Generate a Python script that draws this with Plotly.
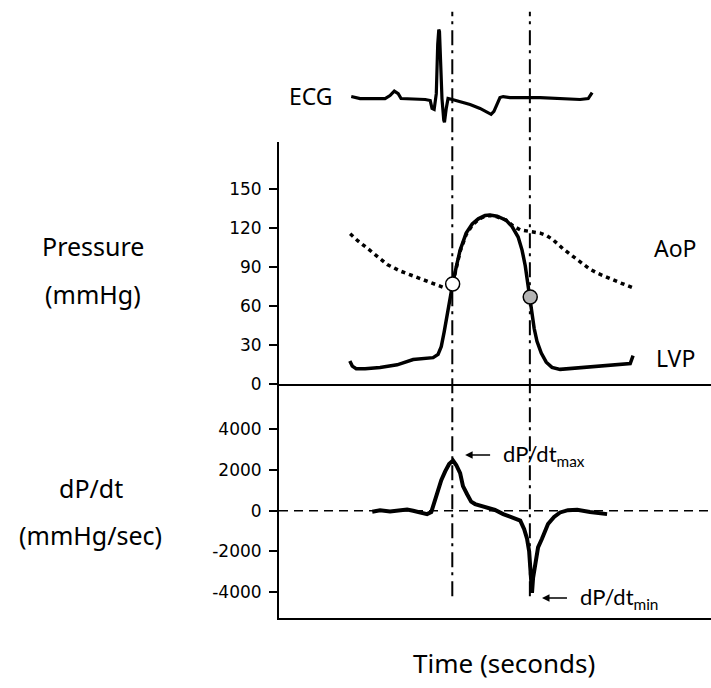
import plotly.graph_objects as go

# ---------------- data (time in seconds) ----------------
ecg_t = [0.003, 0.028, 0.098, 0.112, 0.124, 0.135, 0.143, 0.211, 0.225, 0.230, 0.236, 0.242,
         0.246, 0.249, 0.251, 0.254, 0.258, 0.263, 0.265, 0.270, 0.275, 0.287, 0.309, 0.337,
         0.365, 0.385, 0.396, 0.404, 0.413, 0.421, 0.430, 0.449, 0.534, 0.590, 0.610, 0.624,
         0.646, 0.669, 0.677, 0.680]
ecg_mv = [0.029, 0.0, 0.0, 0.043, 0.107, 0.071, 0.0, -0.014, -0.029, -0.143, -0.157, 0.071,
          0.786, 1.0, 0.971, 0.571, 0.0, -0.314, -0.343, -0.143, 0.0, -0.014, -0.043, -0.086,
          -0.143, -0.2, -0.229, -0.186, -0.086, 0.014, 0.029, 0.014, 0.014, 0.0, -0.014, -0.014,
          -0.014, 0.0, 0.057, 0.086]

lvp_t = [-0.001, 0.006, 0.017, 0.042, 0.084, 0.132, 0.177, 0.211, 0.233, 0.247, 0.256, 0.264,
         0.272, 0.281, 0.288, 0.298, 0.309, 0.326, 0.343, 0.360, 0.379, 0.393, 0.413, 0.438,
         0.455, 0.472, 0.483, 0.492, 0.500, 0.506, 0.511, 0.517, 0.525, 0.537, 0.551, 0.567,
         0.590, 0.632, 0.674, 0.716, 0.758, 0.787, 0.795]
lvp_mmhg = [18, 14, 12, 12, 13, 15, 19, 20, 20.5, 23, 29, 40,
            53, 66, 77, 90, 103, 116, 123, 127, 129.5, 130, 129, 126,
            121, 113, 103, 91, 76, 67, 55, 43, 33, 24, 17, 13,
            11.5, 12.5, 13.5, 14.5, 15, 16, 22]

aop_t = [0.000, 0.022, 0.048, 0.076, 0.104, 0.140, 0.177, 0.219, 0.261, 0.281, 0.288, 0.298,
         0.309, 0.326, 0.343, 0.360, 0.379, 0.393, 0.413, 0.438, 0.458, 0.478, 0.506, 0.534,
         0.553, 0.570, 0.598, 0.626, 0.652, 0.674, 0.697, 0.722, 0.758, 0.795]
aop_mmhg = [115.5, 110, 104.5, 98, 92, 87, 83, 79, 74.5, 75.5, 77, 89,
            102, 115, 122, 126.5, 129, 129.5, 128.5, 126, 121.5, 118.5, 117, 116,
            114, 111, 104, 98, 93, 88.3, 85, 82, 78, 74]

dpdt_t = [0.062, 0.084, 0.112, 0.140, 0.160, 0.177, 0.197, 0.216, 0.228, 0.233, 0.242, 0.247,
          0.256, 0.267, 0.278, 0.289, 0.298, 0.309, 0.317, 0.329, 0.340, 0.351, 0.368, 0.385,
          0.407, 0.430, 0.455, 0.478, 0.489, 0.497, 0.503, 0.506, 0.508, 0.511, 0.514, 0.520,
          0.528, 0.539, 0.556, 0.573, 0.590, 0.612, 0.638, 0.674, 0.702, 0.722]
dpdt_val = [-50, 20, -30, 30, 60, 0, -80, -165, -60, 240, 700, 1045,
            1500, 1936, 2300, 2470, 2250, 1854, 1210, 800, 450, 330, 230, 160,
            40, -165, -320, -484, -900, -1375, -2000, -2662, -3500, -4037, -3300, -2502,
            -1800, -1375, -648, -300, -82, 30, 48, -60, -100, -165]

# aortic valve opening / closing points
valve_t = [0.288, 0.506]
valve_p = [77, 67]
valve_fill = ["white", "#b4b4b4"]

# times of dP/dt max and min (vertical markers)
event_t = [0.287, 0.505]

pressure_ticks = [0, 30, 60, 90, 120, 150]
pressure_ticktext = ["0", "30", "60", "90", "120", "150"]
dpdt_ticks = [-4000, -2000, 0, 2000, 4000]
dpdt_ticktext = ["-4000", "-2000", "0", "2000", "4000"]

# ---------------- figure ----------------
fig = go.Figure()

fig.add_trace(go.Scatter(x=ecg_t, y=ecg_mv, xaxis="x3", yaxis="y3", mode="lines",
                         line=dict(color="black", width=3.2), hoverinfo="skip"))
fig.add_trace(go.Scatter(x=aop_t, y=aop_mmhg, xaxis="x2", yaxis="y2", mode="lines",
                         line=dict(color="black", width=3.5, dash="4px,4px"), hoverinfo="skip"))
fig.add_trace(go.Scatter(x=lvp_t, y=lvp_mmhg, xaxis="x2", yaxis="y2", mode="lines",
                         line=dict(color="black", width=3.5), hoverinfo="skip"))
fig.add_trace(go.Scatter(x=valve_t, y=valve_p, xaxis="x2", yaxis="y2", mode="markers",
                         marker=dict(size=14, color=valve_fill, line=dict(color="black", width=1.5)),
                         hoverinfo="skip"))
fig.add_trace(go.Scatter(x=dpdt_t, y=dpdt_val, xaxis="x", yaxis="y", mode="lines",
                         line=dict(color="black", width=4), hoverinfo="skip"))

xr = [-0.2, 1.014]
ax_line = dict(showline=True, linecolor="black", linewidth=2, showgrid=False, zeroline=False)
tickfont = dict(family="DejaVu Sans", size=17, color="black")

fig.update_layout(
    width=711, height=688,
    margin=dict(l=279, r=0, t=0, b=0),
    paper_bgcolor="white", plot_bgcolor="white",
    showlegend=False,
    xaxis=dict(domain=[0, 1], range=xr, anchor="y", ticks="", showticklabels=False, **ax_line),
    yaxis=dict(domain=[0.0891, 0.4331], range=[-5247, 6210], tickvals=dpdt_ticks,
               ticktext=dpdt_ticktext,
               ticks="outside", ticklen=8, tickwidth=2, tickcolor="black",
               tickfont=tickfont, ticklabelstandoff=4, anchor="x", **ax_line),
    xaxis2=dict(domain=[0, 1], range=xr, matches="x", anchor="y2", ticks="",
                showticklabels=False, **ax_line),
    yaxis2=dict(domain=[0.4331, 0.7907], range=[0, 186], tickvals=pressure_ticks,
                ticktext=pressure_ticktext,
                ticks="outside", ticklen=8, tickwidth=2, tickcolor="black",
                tickfont=tickfont, ticklabelstandoff=4, anchor="x2", **ax_line),
    xaxis3=dict(domain=[0, 1], range=xr, matches="x", anchor="y3", visible=False),
    yaxis3=dict(domain=[0.7965, 1.0], range=[-0.5714, 1.4286], anchor="x3", visible=False),
)

# vertical dash-dot event lines
for t in event_t:
    fig.add_shape(type="line", xref="x", yref="paper", x0=t, x1=t, y0=0.1206, y1=0.9826,
                  line=dict(color="black", width=2, dash="15px,6px,3px,5px"), layer="below")

# dashed zero line of dP/dt
fig.add_shape(type="line", xref="paper", yref="y", x0=0, x1=1, y0=0, y1=0,
              line=dict(color="black", width=1.5, dash="9px,6px"), layer="below")

labels = [
    ("ECG", 0.074, 0.859, 23),
    ("Pressure", -0.4306, 0.6366, 25),
    ("(mmHg)", -0.4306, 0.5669, 25),
    ("dP/dt", -0.435, 0.2805, 25),
    ("(mmHg/sec)", -0.437, 0.2108, 25),
    ("AoP", 0.9167, 0.634, 23),
    ("LVP", 0.9167, 0.4724, 23),
    ("Time (seconds)", 0.5208, 0.0218, 26),
]
for txt, x, y, s in labels:
    fig.add_annotation(text=txt, x=x, y=y, xref="paper", yref="paper", showarrow=False,
                       xanchor="center", yanchor="middle",
                       font=dict(family="Noto Sans", size=s, color="black"))

# dP/dt max / min arrows with labels
arrows = [(0.323, 2740, "dP/dt<sub>max</sub>"),
          (0.539, -4279, "dP/dt<sub>min</sub>")]
for hx, hy, txt in arrows:
    fig.add_annotation(x=hx, y=hy, xref="x", yref="y", ax=25, ay=0, text=txt,
                       xanchor="left", yanchor="middle", borderpad=12,
                       showarrow=True, arrowhead=2, arrowsize=1, arrowwidth=1.5,
                       arrowcolor="black",
                       font=dict(family="Lato", size=22, color="black"))

fig.write_html("out.html")
